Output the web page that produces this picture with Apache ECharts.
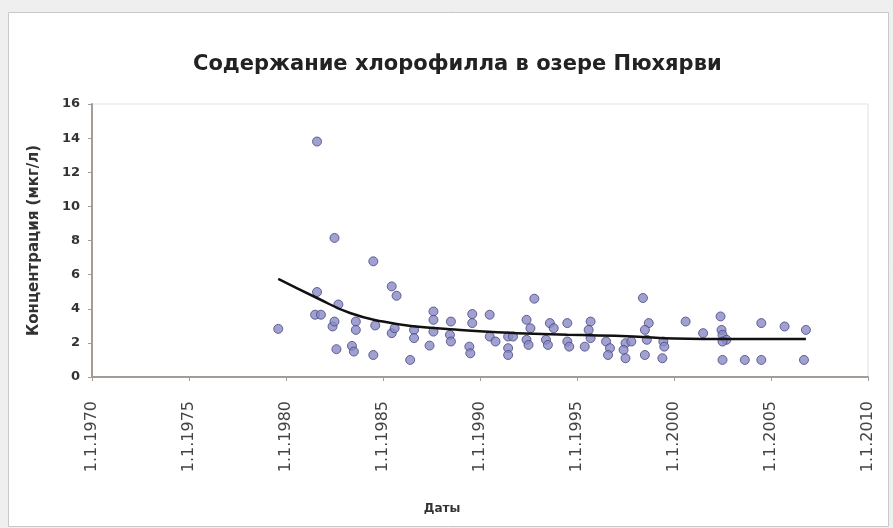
<!DOCTYPE html>
<html>
<head>
<meta charset="utf-8">
<script src="https://cdn.jsdelivr.net/npm/echarts@6/dist/echarts.min.js"></script>
<style>html,body{margin:0;padding:0;background:#efefef;}#c{width:893px;height:528px;}</style>
</head>
<body>
<div id="c"></div>
<script>
var titleText = 'Содержание хлорофилла в озере Пюхярви';
var xName = 'Даты';
var yName = 'Концентрация (мкг/л)';
var xTicks = [1970, 1975, 1980, 1985, 1990, 1995, 2000, 2005, 2010];
var yTicks = [0, 2, 4, 6, 8, 10, 12, 14, 16];

var years = [1979.6,1981.6,1982.5,1984.5,1981.6,1981.5,1981.8,1982.7,1982.4,1982.5,1982.6,1983.4,1983.5,1983.6,1983.6,1984.5,1984.6,1985.45,1985.7,1985.45,1985.6,1986.4,1986.6,1986.6,1987.4,1987.6,1987.6,1987.6,1988.5,1988.45,1988.5,1989.45,1989.5,1989.6,1989.6,1990.5,1990.5,1990.8,1991.45,1991.45,1991.45,1991.7,1992.4,1992.6,1992.4,1992.5,1992.8,1993.4,1993.5,1993.6,1993.8,1994.5,1994.5,1994.6,1995.7,1995.6,1995.7,1995.4,1996.5,1996.7,1996.6,1997.5,1997.4,1997.5,1997.8,1998.4,1998.7,1998.5,1998.6,1998.5,1999.45,1999.5,1999.4,2000.6,2001.5,2002.4,2002.45,2002.5,2002.7,2002.5,2002.5,2003.65,2004.5,2004.5,2005.7,2006.8,2006.7];
var values = [2.82,13.8,8.15,6.78,4.98,3.65,3.65,4.25,2.96,3.25,1.63,1.82,1.49,3.25,2.76,1.29,3.02,5.31,4.76,2.57,2.86,1.0,2.76,2.28,1.84,3.84,3.35,2.66,3.25,2.47,2.08,1.78,1.39,3.69,3.16,3.65,2.37,2.08,2.37,1.69,1.29,2.37,3.35,2.86,2.18,1.88,4.59,2.18,1.88,3.16,2.86,3.16,2.08,1.78,3.25,2.76,2.28,1.78,2.08,1.69,1.29,1.98,1.59,1.1,2.08,4.63,3.16,2.76,2.18,1.29,2.08,1.78,1.1,3.25,2.57,3.55,2.76,2.47,2.18,2.08,1.0,1.0,3.16,1.0,2.96,2.76,1.0];

var trendYears = [1979.6,1981.6,1983.3,1985.0,1986.7,1988.45,1990.2,1991.9,1994.5,1997.9,2000.0,2003.0,2006.8];
var trendValues = [5.75,4.63,3.75,3.25,2.96,2.8,2.66,2.57,2.47,2.38,2.25,2.22,2.22];

var scatterData = years.map(function(y,i){return [y, values[i]];});
var trendData = trendYears.map(function(y,i){return [y, trendValues[i]];});

var chart = echarts.init(document.getElementById('c'), null, {renderer:'canvas'});
chart.setOption({
  backgroundColor: '#efefef',
  animation: false,
  graphic: [{
    type: 'rect', z: -10, silent: true,
    shape: {x: 8.5, y: 12.5, width: 880, height: 514},
    style: {fill: '#ffffff', stroke: '#c8c8c8', lineWidth: 1}
  }],
  title: {
    text: titleText, left: 188, top: 49,
    textStyle: {fontFamily: 'DejaVu Sans', fontSize: 21, fontWeight: 'bold', color: '#222'}
  },
  grid: {left: 92, right: 25, top: 104, bottom: 151, show: true, borderColor: '#e2e2e2', borderWidth: 1, backgroundColor: 'transparent'},
  xAxis: {
    type: 'value', min: xTicks[0], max: xTicks[xTicks.length-1], interval: 5,
    name: xName, nameLocation: 'middle', nameGap: 126,
    nameTextStyle: {fontFamily: 'DejaVu Sans', fontSize: 12, fontWeight: 'bold', color: '#333', padding: [0, 76, 0, 0]},
    axisLine: {show: true, onZero: false, lineStyle: {color: '#a49c96', width: 2}},
    axisTick: {show: true, length: 4, lineStyle: {color: '#a49c96'}},
    axisLabel: {rotate: 90, margin: 24, fontFamily: 'DejaVu Sans', fontSize: 16, color: '#444',
      formatter: function(v){return '1.1.' + v;}},
    splitLine: {show: false}
  },
  yAxis: {
    type: 'value', min: yTicks[0], max: yTicks[yTicks.length-1], interval: 2,
    name: yName, nameLocation: 'middle', nameGap: 50, nameRotate: 90,
    nameTextStyle: {fontFamily: 'DejaVu Sans', fontSize: 15, fontWeight: 'bold', color: '#333'},
    axisLine: {show: true, lineStyle: {color: '#a49c96', width: 2}},
    axisTick: {show: true, length: 4, lineStyle: {color: '#a49c96'}},
    axisLabel: {margin: 12, fontFamily: 'DejaVu Sans', fontSize: 13, fontWeight: 'bold', color: '#333'},
    splitLine: {show: false}
  },
  series: [{
    type: 'scatter', data: scatterData, symbol: 'circle', symbolSize: 9,
    itemStyle: {color: '#8a8ac6', borderColor: '#46467e', borderWidth: 1}
  }, {
    type: 'line', data: trendData, smooth: true, symbol: 'none',
    lineStyle: {color: '#111', width: 2.5}, z: 5
  }]
});
</script>
</body>
</html>
